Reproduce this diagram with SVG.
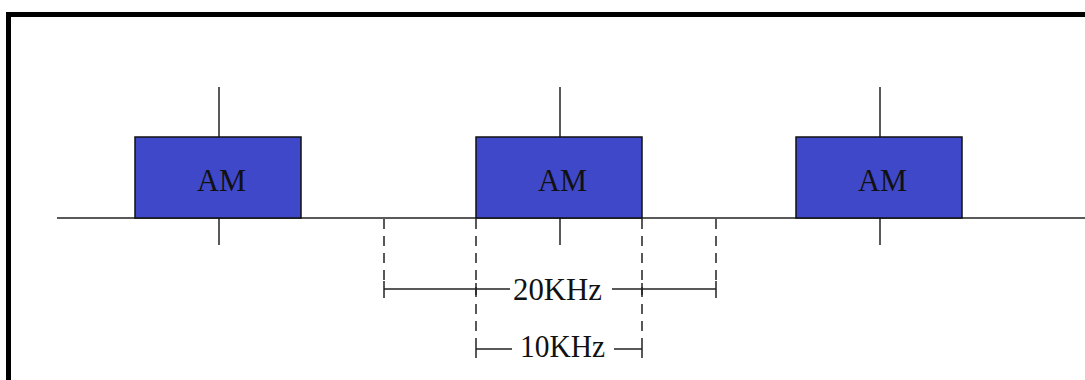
<svg xmlns="http://www.w3.org/2000/svg" width="1085" height="380" viewBox="0 0 1085 380">
<style>
.ln{stroke:#222;stroke-width:1.5;fill:none}
.dash{stroke:#222;stroke-width:1.5;fill:none;stroke-dasharray:10 7}
.box{fill:#3f48c8;stroke:#111;stroke-width:1.5}
.t{font-family:"Liberation Serif",serif;font-size:31px;fill:#111;text-anchor:middle}
</style>
<rect width="1085" height="380" fill="#fff"/>
<rect x="8.5" y="14.5" width="1100" height="400" fill="none" stroke="#000" stroke-width="5"/>
<g id="axis">
<line class="ln" x1="57" y1="218" x2="1085" y2="218"/>
</g>
<g id="am1">
<line class="ln" x1="219" y1="87" x2="219" y2="137"/>
<line class="ln" x1="219" y1="218" x2="219" y2="245"/>
<rect class="box" x="135" y="137" width="166" height="81"/>
<text class="t" x="221.5" y="191" textLength="49" lengthAdjust="spacingAndGlyphs">AM</text>
</g>
<g id="am2">
<line class="ln" x1="560" y1="87" x2="560" y2="137"/>
<line class="ln" x1="560" y1="218" x2="560" y2="245"/>
<rect class="box" x="476" y="137" width="166" height="81"/>
<text class="t" x="562.5" y="191" textLength="49" lengthAdjust="spacingAndGlyphs">AM</text>
</g>
<g id="am3">
<line class="ln" x1="880" y1="87" x2="880" y2="137"/>
<line class="ln" x1="880" y1="218" x2="880" y2="245"/>
<rect class="box" x="796" y="137" width="166" height="81"/>
<text class="t" x="882.5" y="191" textLength="49" lengthAdjust="spacingAndGlyphs">AM</text>
</g>
<g id="connectors">
<line class="dash" x1="384" y1="219" x2="384" y2="282"/>
<line class="dash" x1="716" y1="219" x2="716" y2="282"/>
<line class="dash" x1="476" y1="219" x2="476" y2="342"/>
<line class="dash" x1="642" y1="219" x2="642" y2="342"/>
<line class="ln" x1="384" y1="289" x2="510" y2="289"/>
<line class="ln" x1="612" y1="289" x2="716" y2="289"/>
<line class="ln" x1="384" y1="281" x2="384" y2="298"/>
<line class="ln" x1="716" y1="281" x2="716" y2="298"/>
<line class="ln" x1="476" y1="283" x2="476" y2="295"/>
<line class="ln" x1="642" y1="283" x2="642" y2="295"/>
<line class="ln" x1="476" y1="349" x2="512" y2="349"/>
<line class="ln" x1="614" y1="349" x2="642" y2="349"/>
<line class="ln" x1="476" y1="342" x2="476" y2="358"/>
<line class="ln" x1="642" y1="342" x2="642" y2="358"/>
</g>
<g id="labels">
<text class="t" x="557.5" y="300" textLength="89" lengthAdjust="spacingAndGlyphs">20KHz</text>
<text class="t" x="562.5" y="357" textLength="85" lengthAdjust="spacingAndGlyphs">10KHz</text>
</g>
</svg>
